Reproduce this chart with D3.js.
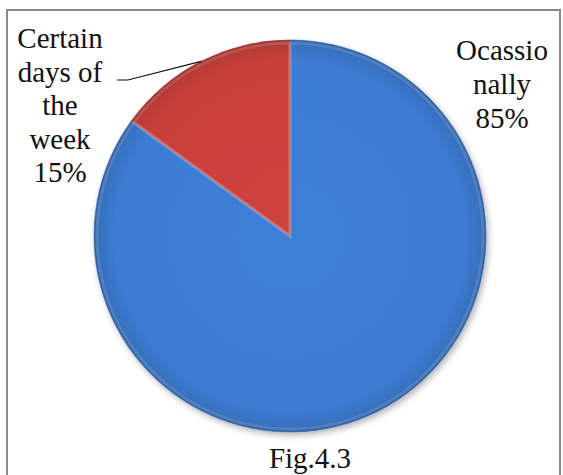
<!DOCTYPE html>
<html>
<head>
<meta charset="utf-8">
<script src="https://cdn.jsdelivr.net/npm/d3@7"></script>
<style>
  html, body { margin: 0; padding: 0; background: #fff; }
  svg { display: block; }
  svg text { font-family: "Liberation Serif", "Times New Roman", serif; }
</style>
</head>
<body>
<svg id="chart" width="563" height="475"></svg>
<script>
// Frequency of visits
const categories = ["Ocassio nally", "Certain days of the week"];
const shares = [85, 15];
const labelLines = [["Ocassio", "nally", "85%"], ["Certain", "days of", "the", "week", "15%"]];
const sliceColors = ["#3c7bd2", "#c9403b"];
const caption = "Fig.4.3";

const FONT = "Liberation Serif";
const cx = 290, cy = 236, R = 196;

const svg = d3.select("#chart");
const defs = svg.append("defs");

// Chart frame
svg.append("rect")
  .attr("x", 7).attr("y", 10)
  .attr("width", 553).attr("height", 480)
  .attr("fill", "#fff")
  .attr("stroke", "#8a8a8a").attr("stroke-width", 2);

// Soft drop shadow under the pie
const shadow = defs.append("filter").attr("id", "shadow")
  .attr("x", "-20%").attr("y", "-20%").attr("width", "140%").attr("height", "140%");
shadow.append("feGaussianBlur").attr("in", "SourceAlpha").attr("stdDeviation", 3).attr("result", "b");
shadow.append("feOffset").attr("in", "b").attr("dx", 2).attr("dy", 3).attr("result", "o");
shadow.append("feComponentTransfer").attr("in", "o").attr("result", "s")
  .append("feFuncA").attr("type", "linear").attr("slope", 0.3);
const merge = shadow.append("feMerge");
merge.append("feMergeNode").attr("in", "s");
merge.append("feMergeNode").attr("in", "SourceGraphic");

// Bevel-like shading per slice (gradient centred on the pie's own origin)
sliceColors.forEach((c, i) => {
  const base = d3.color(c);
  const g = defs.append("radialGradient").attr("id", "grad" + i)
    .attr("gradientUnits", "userSpaceOnUse")
    .attr("cx", 0).attr("cy", 0).attr("r", R);
  g.append("stop").attr("offset", "0%").attr("stop-color", base.brighter(0.08));
  g.append("stop").attr("offset", "90%").attr("stop-color", base);
  g.append("stop").attr("offset", "97%").attr("stop-color", base.darker(0.25));
  g.append("stop").attr("offset", "100%").attr("stop-color", base.darker(0.7));
});

const pie = d3.pie().sort(null).value(d => d);
const arcs = pie(shares);
const arc = d3.arc().innerRadius(0).outerRadius(R);

const g = svg.append("g").attr("transform", `translate(${cx},${cy})`);
g.append("g").attr("filter", "url(#shadow)")
  .selectAll("path")
  .data(arcs)
  .join("path")
  .attr("d", arc)
  .attr("fill", (d, i) => `url(#grad${i})`)
  .attr("stroke", (d, i) => d3.color(sliceColors[i]).darker(0.5))
  .attr("stroke-width", 0.6);

// Light highlight along the slice edges
g.selectAll("path.hl")
  .data(arcs)
  .join("path")
  .attr("class", "hl")
  .attr("d", d3.arc().innerRadius(0).outerRadius(R - 3))
  .attr("fill", "none")
  .attr("stroke", "#ffffff")
  .attr("stroke-opacity", 0.15)
  .attr("stroke-width", 3);

// Labels: one text element per line
const labelPos = [{ x: 502, y: 60, step: 34 }, { x: 60, y: 48, step: 33.5 }];
labelLines.forEach((lines, i) => {
  svg.append("g").selectAll("text")
    .data(lines)
    .join("text")
    .attr("x", labelPos[i].x)
    .attr("y", (d, j) => labelPos[i].y + j * labelPos[i].step)
    .attr("text-anchor", "middle")
    .attr("font-family", FONT)
    .attr("font-size", 29)
    .attr("fill", "#111")
    .text(d => d);
});

// Leader line from the small slice to its label
const small = arcs[1];
const mid = (small.startAngle + small.endAngle) / 2;
const ex = cx + R * Math.sin(mid), ey = cy - R * Math.cos(mid);
svg.append("polyline")
  .attr("points", `117,80 128,80 ${ex},${ey}`)
  .attr("fill", "none")
  .attr("stroke", "#111")
  .attr("stroke-width", 1.2);

// Caption
svg.append("text")
  .attr("x", 310).attr("y", 468)
  .attr("text-anchor", "middle")
  .attr("font-family", FONT)
  .attr("font-size", 29)
  .attr("fill", "#111")
  .text(caption);
</script>
</body>
</html>
